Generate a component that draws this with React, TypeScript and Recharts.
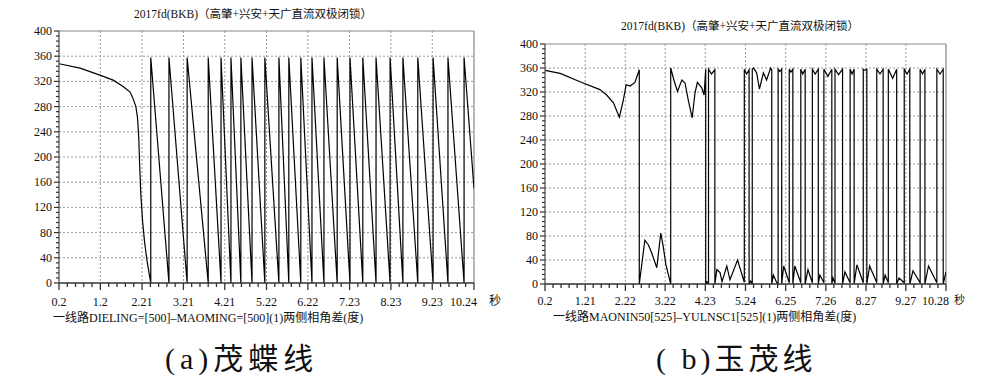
import React from "react";
import { CartesianGrid, Line, LineChart, ReferenceLine, XAxis, YAxis } from "recharts";

const serif = '"Liberation Serif", "Noto Sans CJK SC", serif';

// (a) 茂蝶线 — drift before losing step, [time s, angle deg]
const leftLead = [
  [0.2, 348], [0.71, 341], [1.19, 330], [1.51, 322], [1.75, 312], [1.92, 303],
  [1.99, 293], [2.06, 280], [2.1, 262], [2.13, 230], [2.15, 190], [2.18, 140],
  [2.22, 100], [2.27, 65], [2.33, 35], [2.42, 0],
];
// moments where the angle wraps from 0 back to 360
const leftWraps = [
  2.42, 2.86, 3.3, 3.81, 4.12, 4.36, 4.6, 4.87, 5.18, 5.52, 5.76, 6.05,
  6.32, 6.61, 6.93, 7.24, 7.55, 7.87, 8.21, 8.52, 8.88, 9.25, 9.61, 10.0,
];
const leftTail = [10.24, 150];
const leftTickLabels = ["0.2", "1.2", "2.21", "3.21", "4.21", "5.22", "6.22", "7.23", "8.23", "9.23", "10.24"];

// (b) 玉茂线 — full trace, [time s, angle deg]
const rightTrace = [
  [0.2, 356], [0.58, 351], [1.08, 337], [1.58, 324], [1.75, 315], [1.92, 302],
  [2.07, 278], [2.17, 307], [2.24, 332], [2.34, 330], [2.46, 336], [2.57, 357],
  [2.57, 0], [2.71, 73], [2.8, 65], [2.88, 52], [3.01, 27], [3.11, 85], [3.17, 63], [3.24, 32], [3.36, 0],
  [3.36, 360], [3.44, 340], [3.53, 321], [3.64, 340], [3.72, 335], [3.8, 307], [3.9, 277],
  [3.97, 318], [4.03, 336], [4.14, 327], [4.2, 315], [4.24, 358],
  [4.24, 0], [4.27, 4], [4.31, 0],
  [4.31, 358], [4.385, 350], [4.47, 357],
  [4.47, 0], [4.52, 24], [4.6, 19], [4.65, 4], [4.77, 30], [4.85, 7], [5.04, 40], [5.2, 5], [5.21, 3],
  [5.21, 358], [5.27, 350], [5.33, 357],
  [5.33, 0], [5.37, 5], [5.41, 0],
  [5.41, 358], [5.44, 360], [5.52, 352], [5.59, 325], [5.69, 352], [5.77, 340], [5.87, 360], [5.9, 357],
  [5.9, 0], [5.94, 15], [6.02, 3], [6.06, 0],
  [6.06, 358], [6.1, 354], [6.15, 358],
  [6.15, 0], [6.2, 30], [6.34, 2],
  [6.34, 358], [6.38, 353], [6.43, 358],
  [6.43, 0], [6.48, 30], [6.63, 2],
  [6.63, 358], [6.68, 350], [6.74, 358],
  [6.74, 0], [6.81, 24], [6.92, 2],
  [6.92, 358], [6.99, 350], [7.07, 358],
  [7.07, 0], [7.11, 15], [7.21, 2],
  [7.21, 358], [7.31, 346], [7.41, 358],
  [7.41, 0], [7.44, 10], [7.49, 1],
  [7.49, 358], [7.58, 349], [7.68, 358],
  [7.68, 0], [7.74, 20], [7.87, 2],
  [7.87, 358], [7.92, 350], [7.97, 358],
  [7.97, 0], [8.04, 32], [8.2, 2],
  [8.2, 358], [8.24, 356], [8.29, 358],
  [8.29, 0], [8.36, 30], [8.54, 2],
  [8.54, 358], [8.62, 350], [8.7, 358],
  [8.7, 0], [8.75, 15], [8.83, 2],
  [8.83, 358], [8.94, 343], [9.04, 358],
  [9.04, 0], [9.1, 10], [9.23, 2],
  [9.23, 358], [9.3, 350], [9.37, 358],
  [9.37, 0], [9.45, 22], [9.63, 2],
  [9.63, 358], [9.69, 350], [9.75, 358],
  [9.75, 0], [9.84, 30], [10.05, 2],
  [10.05, 358], [10.13, 350], [10.21, 358],
  [10.21, 0], [10.28, 20],
];
const rightTickLabels = ["0.2", "1.21", "2.22", "3.22", "4.23", "5.24", "6.25", "7.26", "8.27", "9.27", "10.28"];

const yMajor = [0, 40, 80, 120, 160, 200, 240, 280, 320, 360, 400];

const withMinors = (majors: number[], n: number) => {
  const out: number[] = [];
  majors.forEach((m, i) => {
    out.push(m);
    if (i < majors.length - 1) {
      const step = (majors[i + 1] - m) / n;
      for (let k = 1; k < n; k++) out.push(m + k * step);
    }
  });
  return out;
};

const leftData = (() => {
  const pts = leftLead.map(([t, v]) => ({ t, v }));
  leftWraps.forEach((t, i) => {
    if (i > 0) pts.push({ t, v: 0 });
    pts.push({ t, v: 358 });
  });
  pts.push({ t: leftTail[0], v: leftTail[1] });
  return pts;
})();

const rightData = rightTrace.map(([t, v]) => ({ t, v }));

function XTick(props: any) {
  const { x, y, payload, labels, dy } = props;
  const idx = labels.findIndex((l: string) => Math.abs(parseFloat(l) - payload.value) < 1e-6);
  const label = idx >= 0 ? labels[idx] : null;
  const last = idx === labels.length - 1;
  return (
    <g>
      <line x1={x} x2={x} y1={y} y2={y + (label ? 7 : 4)} stroke="#333" strokeWidth={1.3} />
      {label && (
        <text
          x={last ? x + 3 : x}
          y={y + dy}
          textAnchor={last ? "end" : "middle"}
          fontSize={12}
          fill="#111"
          fontFamily={serif}
        >
          {label}
        </text>
      )}
    </g>
  );
}

function YTick(props: any) {
  const { x, y, payload } = props;
  const major = payload.value % 40 === 0;
  return (
    <g>
      <line x1={x} x2={x - (major ? 5 : 3)} y1={y} y2={y} stroke="#333" strokeWidth={1.2} />
      {major && (
        <text x={x - 7} y={y + 4} textAnchor="end" fontSize={12} fill="#111" fontFamily={serif}>
          {payload.value}
        </text>
      )}
    </g>
  );
}

interface PanelProps {
  data: { t: number; v: number }[];
  labels: string[];
  width: number;
  height: number;
  margin: { top: number; right: number; bottom: number; left: number };
  labelDy: number;
}

function Panel({ data, labels, width, height, margin, labelDy }: PanelProps) {
  const majors = labels.map(parseFloat);
  const lo = majors[0];
  const hi = majors[majors.length - 1];
  return (
    <LineChart width={width} height={height} data={data} margin={margin}>
      <CartesianGrid
        stroke="#9a9a9a"
        strokeDasharray="2 2"
        verticalValues={majors.slice(1, -1)}
        horizontalValues={yMajor.slice(1, -1)}
      />
      <XAxis
        dataKey="t"
        type="number"
        domain={[lo, hi]}
        ticks={withMinors(majors, 5)}
        interval={0}
        allowDataOverflow
        tickSize={0}
        tickMargin={0}
        tickLine={false}
        height={30}
        stroke="#333"
        strokeWidth={1.5}
        tick={(p: any) => <XTick {...p} labels={labels} dy={labelDy} />}
      />
      <YAxis
        type="number"
        domain={[0, 400]}
        ticks={withMinors(yMajor, 5)}
        interval={0}
        allowDataOverflow
        tickSize={0}
        tickMargin={0}
        tickLine={false}
        width={40}
        stroke="#555"
        strokeWidth={1.3}
        tick={(p: any) => <YTick {...p} />}
      />
      <ReferenceLine y={400} stroke="#888" strokeWidth={1.2} />
      <ReferenceLine x={hi} stroke="#888" strokeWidth={1.2} />
      <Line
        dataKey="v"
        type="linear"
        stroke="#000"
        strokeWidth={1.2}
        dot={false}
        isAnimationActive={false}
      />
    </LineChart>
  );
}

const txt = (extra: React.CSSProperties): React.CSSProperties => ({
  position: "absolute",
  fontFamily: serif,
  color: "#111",
  whiteSpace: "nowrap",
  lineHeight: 1,
  ...extra,
});

export default function App() {
  const title = "2017fd(BKB)（高肇+兴安+天广直流双极闭锁）";
  return (
    <div style={{ position: "absolute", left: 0, top: 0, width: 987, height: 390, background: "#fff", overflow: "hidden" }}>
      <div style={{ position: "absolute", left: 0, top: 0 }}>
        <Panel
          data={leftData}
          labels={leftTickLabels}
          width={490}
          height={320}
          margin={{ top: 31, right: 16, left: 19, bottom: 7 }}
          labelDy={23}
        />
      </div>
      <div style={{ position: "absolute", left: 490, top: 0 }}>
        <Panel
          data={rightData}
          labels={rightTickLabels}
          width={497}
          height={320}
          margin={{ top: 44, right: 41, left: 15, bottom: 6 }}
          labelDy={21}
        />
      </div>
      <div style={txt({ left: 253, top: 9, fontSize: 11.5, transform: "translateX(-50%)" })}>{title}</div>
      <div style={txt({ left: 740, top: 21, fontSize: 11.5, transform: "translateX(-50%)" })}>{title}</div>
      <div style={txt({ left: 53, top: 312, fontSize: 12 })}>一线路DIELING=[500]–MAOMING=[500](1)两侧相角差(度)</div>
      <div style={txt({ left: 553, top: 311, fontSize: 12 })}>一线路MAONIN50[525]–YULNSC1[525](1)两侧相角差(度)</div>
      <div style={txt({ left: 489, top: 295, fontSize: 12 })}>秒</div>
      <div style={txt({ left: 954, top: 295, fontSize: 11 })}>秒</div>
      <div style={txt({ left: 165, top: 344, fontSize: 30, letterSpacing: 5 })}>(a)茂蝶线</div>
      <div style={txt({ left: 656, top: 344, fontSize: 30, letterSpacing: 4 })}>( b)玉茂线</div>
    </div>
  );
}
